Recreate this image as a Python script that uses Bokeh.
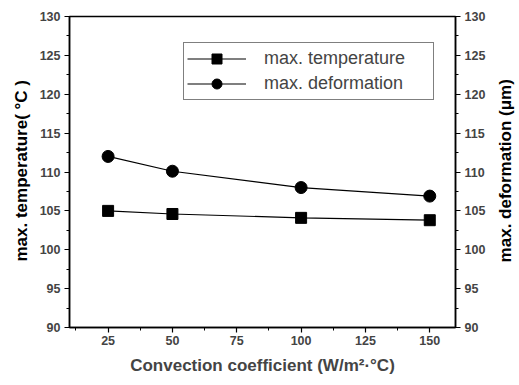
import math
from bokeh.plotting import figure
from bokeh.layouts import row
from bokeh.models import Range1d, LinearAxis, FixedTicker, Legend, LegendItem, Label
from bokeh.embed import file_html
from bokeh.resources import INLINE

conv = [25, 50, 100, 150]
max_temp = [105.0, 104.6, 104.1, 103.8]
max_def = [112.0, 110.1, 108.0, 106.9]
x_ticks = [25, 50, 75, 100, 125, 150]
y_ticks = [90, 95, 100, 105, 110, 115, 120, 125, 130]

FONT = "Liberation Sans"
H = 379

p = figure(width=457, height=H, output_backend="svg", toolbar_location=None,
           x_range=Range1d(10, 160), y_range=Range1d(90, 130),
           min_border_left=37, min_border_right=34, min_border_top=16, min_border_bottom=52)
p.extra_y_ranges = {"def": Range1d(90, 130)}
p.grid.visible = False
p.outline_line_color = "black"
p.outline_line_width = 1.5
p.background_fill_color = "white"
p.border_fill_color = "white"

def style(ax, label):
    ax.axis_label = label
    ax.axis_label_text_font = FONT
    ax.axis_label_text_font_style = "bold"
    ax.axis_label_text_font_size = "17px"
    ax.major_label_text_font = FONT
    ax.major_label_text_font_style = "bold"
    ax.major_label_text_font_size = "12.5px"
    ax.axis_line_width = 1.5
    ax.major_tick_out = 5
    ax.major_tick_in = 0
    ax.minor_tick_out = 3
    ax.minor_tick_in = 0
    ax.major_tick_line_width = 1.2
    ax.major_label_standoff = 4

bx = p.xaxis[0]
style(bx, "Convection coefficient (W/m²·°C)")
bx.ticker = FixedTicker(ticks=x_ticks, minor_ticks=[12.5 + 25 * i for i in range(6)])
bx.major_label_standoff = 3
bx.axis_label_standoff = 8

ly = p.yaxis[0]
style(ly, None)
ly.ticker = FixedTicker(ticks=y_ticks, minor_ticks=[92.5 + 5 * i for i in range(8)])

ry = LinearAxis(y_range_name="def")
style(ry, None)
ry.ticker = FixedTicker(ticks=y_ticks, minor_ticks=[92.5 + 5 * i for i in range(8)])
p.add_layout(ry, "right")

r1l = p.line(conv, max_temp, line_color="black", line_width=1.2)
r1m = p.scatter(conv, max_temp, marker="square", size=11, fill_color="black", line_color="black")
r2l = p.line(conv, max_def, line_color="black", line_width=1.2, y_range_name="def")
r2m = p.scatter(conv, max_def, marker="circle", size=12, fill_color="black", line_color="black", y_range_name="def")

legend = Legend(items=[LegendItem(label="max. temperature", renderers=[r1l, r1m]),
                       LegendItem(label="max. deformation", renderers=[r2l, r2m])])
legend.label_text_font = FONT
legend.label_text_font_size = "18px"
legend.border_line_color = "black"
legend.border_line_width = 1
legend.glyph_width = 59
legend.label_standoff = 18
legend.label_width = 166
legend.spacing = 0
legend.padding = 3
legend.margin = 0
legend.label_height = 25
legend.glyph_height = 25
legend.background_fill_alpha = 1
legend.location = (114, 227)
p.add_layout(legend)

def side_title(text, width, xpos):
    f = figure(width=width, height=H, output_backend="svg", toolbar_location=None,
               x_range=Range1d(0, 1), y_range=Range1d(0, 1),
               x_axis_type=None, y_axis_type=None, min_border=0)
    f.grid.visible = False
    f.outline_line_color = None
    f.background_fill_color = "white"
    f.border_fill_color = "white"
    f.add_layout(Label(x=xpos, y=(H - 188) / H, text=text, angle=math.pi / 2,
                       text_align="center", text_baseline="middle", text_font=FONT,
                       text_font_style="bold", text_font_size="17px", text_color="black"))
    return f

p0 = side_title("max. temperature( °C )", 32, 21 / 32)
p2 = side_title("max. deformation (μm)", 28, 16 / 28)

layout = row(p0, p, p2, spacing=0)
open("out.html", "w").write(file_html(layout, INLINE))
